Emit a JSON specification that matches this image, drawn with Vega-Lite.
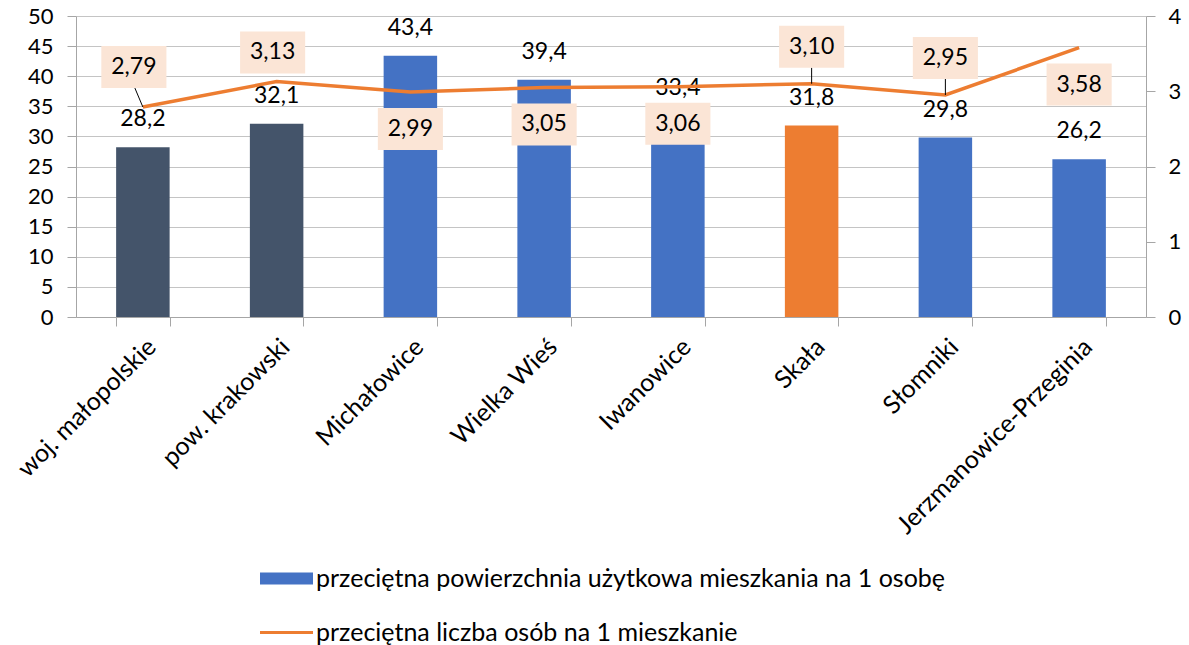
{
  "$schema": "https://vega.github.io/schema/vega-lite/v6.json",
  "width": 1070,
  "height": 301,
  "autosize": "none",
  "padding": {"left": 76, "top": 16, "right": 43, "bottom": 328},
  "background": "white",
  "config": {
    "locale": {"number": {"decimal": ",", "thousands": "\u00a0", "grouping": [3], "currency": ["", " zł"]}},
    "view": {"stroke": null},
    "font": "Lato",
    "text": {"font": "Lato", "fontSize": 23, "color": "black"},
    "axis": {
      "domainColor": "#a6a6a6",
      "tickColor": "#a6a6a6",
      "gridColor": "#c4c4c4",
      "labelFont": "Lato",
      "labelFontSize": 22,
      "labelColor": "black",
      "tickSize": 9,
      "title": null
    }
  },
  "data": {
    "values": [
      {"obszar": "woj. małopolskie", "pow": 28.2, "osoby": 2.79},
      {"obszar": "pow. krakowski", "pow": 32.1, "osoby": 3.13},
      {"obszar": "Michałowice", "pow": 43.4, "osoby": 2.99},
      {"obszar": "Wielka Wieś", "pow": 39.4, "osoby": 3.05},
      {"obszar": "Iwanowice", "pow": 33.4, "osoby": 3.06},
      {"obszar": "Skała", "pow": 31.8, "osoby": 3.10},
      {"obszar": "Słomniki", "pow": 29.8, "osoby": 2.95},
      {"obszar": "Jerzmanowice-Przeginia", "pow": 26.2, "osoby": 3.58}
    ]
  },
  "encoding": {
    "x": {
      "field": "obszar",
      "type": "nominal",
      "sort": null,
      "scale": {"paddingInner": 0.6, "paddingOuter": 0.3},
      "axis": {"labelAngle": -45, "tickBand": "extent", "labelPadding": 8, "labelFontSize": 25, "labelLimit": 600, "title": null}
    }
  },
  "layer": [
    {
      "encoding": {
        "y": {
          "field": "pow",
          "type": "quantitative",
          "scale": {"domain": [0, 50]},
          "axis": {"values": [0, 5, 10, 15, 20, 25, 30, 35, 40, 45, 50], "grid": true, "labelPadding": 14, "title": null}
        }
      },
      "layer": [
        {
          "mark": {"type": "bar"},
          "encoding": {
            "color": {
              "condition": [
                {"test": "datum.obszar === 'woj. małopolskie' || datum.obszar === 'pow. krakowski'", "value": "#44546a"},
                {"test": "datum.obszar === 'Skała'", "value": "#ed7d31"}
              ],
              "value": "#4472c4"
            }
          }
        },
        {
          "mark": {"type": "text", "dy": -28, "baseline": "middle"},
          "encoding": {"text": {"field": "pow", "type": "quantitative", "format": ".1f"}}
        }
      ]
    },
    {
      "encoding": {
        "y": {
          "field": "osoby",
          "type": "quantitative",
          "scale": {"domain": [0, 4]},
          "axis": {"orient": "right", "values": [0, 1, 2, 3, 4], "grid": false, "labelPadding": 13, "title": null}
        }
      },
      "layer": [
        {
          "mark": {"type": "line", "strokeWidth": 3.5},
          "encoding": {
            "color": {
              "datum": "przeciętna liczba osób na 1 mieszkanie",
              "type": "nominal",
              "scale": {
                "domain": ["przeciętna powierzchnia użytkowa mieszkania na 1 osobę", "przeciętna liczba osób na 1 mieszkanie"],
                "range": ["#4472c4", "#ed7d31"]
              },
              "legend": {
                "orient": "none",
                "legendX": 184,
                "legendY": 536,
                "direction": "vertical",
                "title": null,
                "labelFont": "Lato",
                "labelFontSize": 25,
                "labelColor": "black",
                "labelLimit": 900,
                "labelOffset": 3,
                "symbolSize": 2809,
                "symbolStrokeWidth": 0,
                "rowPadding": 14,
                "encode": {
                  "symbols": {
                    "update": {
                      "shape": {"signal": "indexof(datum.value, 'liczba') >= 0 ? 'M-1,-0.06L1,-0.06L1,0.06L-1,0.06Z' : 'M-1,-0.23L1,-0.23L1,0.23L-1,0.23Z'"},
                      "fill": {"scale": "color", "field": "value"},
                      "fillOpacity": {"value": 1},
                      "opacity": {"value": 1},
                      "strokeWidth": {"value": 0}
                    }
                  }
                }
              }
            }
          }
        },
        {
          "transform": [{"filter": {"field": "obszar", "equal": "woj. małopolskie"}}],
          "mark": {"type": "rule", "color": "black", "strokeWidth": 1, "x2Offset": -8, "y2Offset": -19},
          "encoding": {"x2": {"field": "obszar"}, "y2": {"field": "osoby"}}
        },
        {
          "transform": [{"filter": {"field": "obszar", "oneOf": ["Skała", "Słomniki"]}}],
          "mark": {"type": "rule", "color": "black", "strokeWidth": 1, "y2Offset": -16},
          "encoding": {"y2": {"field": "osoby"}}
        },
        {
          "transform": [{"filter": {"field": "obszar", "equal": "woj. małopolskie"}}],
          "layer": [
            {"mark": {"type": "point", "shape": "M-1.55,-1L1.55,-1L1.55,1L-1.55,1Z", "size": 1764, "filled": true, "fill": "#fbe5d6", "opacity": 1, "strokeWidth": 0, "xOffset": -9, "yOffset": -40}},
            {"mark": {"type": "text", "baseline": "middle", "xOffset": -9, "yOffset": -40}, "encoding": {"text": {"field": "osoby", "type": "quantitative", "format": ".2f"}}}
          ]
        },
        {
          "transform": [{"filter": {"field": "obszar", "equal": "pow. krakowski"}}],
          "layer": [
            {"mark": {"type": "point", "shape": "M-1.55,-1L1.55,-1L1.55,1L-1.55,1Z", "size": 1764, "filled": true, "fill": "#fbe5d6", "opacity": 1, "strokeWidth": 0, "xOffset": -4, "yOffset": -29}},
            {"mark": {"type": "text", "baseline": "middle", "xOffset": -4, "yOffset": -29}, "encoding": {"text": {"field": "osoby", "type": "quantitative", "format": ".2f"}}}
          ]
        },
        {
          "transform": [{"filter": {"field": "obszar", "oneOf": ["Skała", "Słomniki"]}}],
          "layer": [
            {"mark": {"type": "point", "shape": "M-1.55,-1L1.55,-1L1.55,1L-1.55,1Z", "size": 1764, "filled": true, "fill": "#fbe5d6", "opacity": 1, "strokeWidth": 0, "yOffset": -37}},
            {"mark": {"type": "text", "baseline": "middle", "yOffset": -37}, "encoding": {"text": {"field": "osoby", "type": "quantitative", "format": ".2f"}}}
          ]
        },
        {
          "transform": [{"filter": {"field": "obszar", "oneOf": ["Michałowice", "Wielka Wieś", "Iwanowice", "Jerzmanowice-Przeginia"]}}],
          "layer": [
            {"mark": {"type": "point", "shape": "M-1.55,-1L1.55,-1L1.55,1L-1.55,1Z", "size": 1764, "filled": true, "fill": "#fbe5d6", "opacity": 1, "strokeWidth": 0, "yOffset": 37}},
            {"mark": {"type": "text", "baseline": "middle", "yOffset": 37}, "encoding": {"text": {"field": "osoby", "type": "quantitative", "format": ".2f"}}}
          ]
        }
      ]
    }
  ],
  "resolve": {"scale": {"y": "independent"}, "axis": {"y": "independent"}}
}
